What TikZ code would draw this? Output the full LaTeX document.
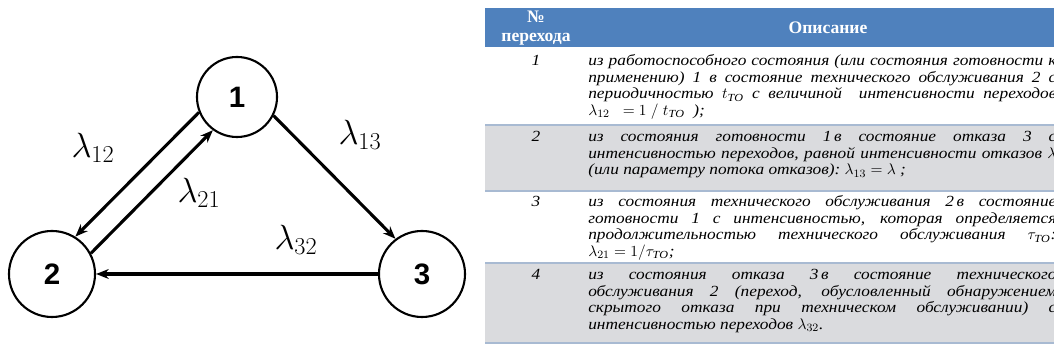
\documentclass[tikz,border=0pt]{standalone}
\usepackage{amsmath}
\usepackage{fontspec}
\setmainfont{Liberation Serif}
\newfontfamily\tabfont{Liberation Serif}[FakeStretch=1.12]
\newfontfamily\numfont{Liberation Sans}
\usepackage{tikz}
\usetikzlibrary{arrows.meta,positioning,calc}
\definecolor{hdrblue}{RGB}{79,129,189}
\definecolor{rowgray}{RGB}{218,219,222}
\definecolor{rowline}{RGB}{168,186,210}
\tikzset{
  st/.style={circle,draw,line width=1.5pt,minimum size=2.15cm,inner sep=0pt,font=\numfont\bfseries\fontsize{21}{21}\selectfont},
  arr/.style={-{Stealth[length=9pt,width=7pt]},line width=2.2pt},
  lam/.style={font=\fontsize{25}{25}\selectfont,inner sep=0pt},
  hd/.style={text=white,font=\bfseries\fontsize{12.5}{14}\selectfont,align=center,inner sep=0pt},
  no/.style={font=\tabfont\itshape\fontsize{11}{11.7}\selectfont,inner sep=0pt,anchor=base},
  dsc/.style={font=\tabfont\itshape\fontsize{11}{11.7}\selectfont,inner sep=0pt,text width=11.7cm,align=justify,anchor=base west},
  rl/.style={rowline,line width=1.2pt},
}

\begin{document}
\begin{tikzpicture}[x=0.025cm,y=-0.025cm]
  \useasboundingbox (0,0) rectangle (1054,352);
  \clip (0,0) rectangle (1054,352);
  % graph of states
  \node[st,minimum size=2cm] (n1) at (237,97) {1};
  \node[st] (n2) at (52,274) {2};
  \node[st] (n3) at (422,274) {3};
  \draw[arr] (n1.202) -- (n2.58);
  \draw[arr] (n2.28) -- (n1.234);
  \draw[arr] (n1.333) -- (n3.127);
  \draw[arr] (n3) -- (n2);
  \node[lam] (l12) at (93,148) {$\lambda_{12}$};
  \node[lam] (l21) at (199,193) {$\lambda_{21}$};
  \node[lam] (l13) at (360,135) {$\lambda_{13}$};
  \node[lam] (l32) at (296,240) {$\lambda_{32}$};
  % table
  \fill[hdrblue] (485,8) rectangle (1054,47);
  \fill[rowgray] (485,125) rectangle (1054,191);
  \fill[rowgray] (485,263) rectangle (1054,343);
  \draw[rl] (485,125) -- (1054,125);
  \draw[rl] (485,191) -- (1054,191);
  \draw[rl] (485,263) -- (1054,263);
  \draw[rl] (485,343) -- (1054,343);
  \node[hd] (hnum) at (536,28) {№\\перехода};
  \node[hd] (hdsc) at (828,28) {Описание};
  \node[no] (r1) at (536,66) {1};
  \node[dsc] (d1) at (588,66) {из работоспособного состояния (или состояния готовности к\linebreak
    применению) 1 в состояние технического обслуживания 2 с\linebreak
    периодичностью $t_{\text{ТО}}$ с величиной\ \ интенсивности переходов\linebreak
    $\lambda_{12}\;\;= 1\;/\;t_{\text{ТО}}$\ \ );};
  \node[no] (r2) at (536,142) {2};
  \node[dsc] (d2) at (588,142) {из состояния готовности 1\,в состояние отказа 3 с\linebreak
    интенсивностью переходов, равной интенсивности отказов $\lambda$\linebreak
    (или параметру потока отказов):\ $\lambda_{13}=\lambda$ ;};
  \node[no] (r3) at (536,207) {3};
  \node[dsc] (d3) at (588,207) {из состояния технического обслуживания 2\,в состояние\linebreak
    готовности 1 с интенсивностью, которая определяется\linebreak
    продолжительностью технического обслуживания $\tau_{\text{ТО}}$:\linebreak
    $\lambda_{21}=1/\tau_{\text{ТО}}$;};
  \node[no] (r4) at (536,280) {4};
  \node[dsc] (d4) at (588,280) {из состояния отказа 3\,в состояние технического\linebreak
    обслуживания 2 (переход, обусловленный обнаружением\linebreak
    скрытого отказа при техническом обслуживании) с\linebreak
    интенсивностью переходов $\lambda_{32}$.};
\end{tikzpicture}
\end{document}
